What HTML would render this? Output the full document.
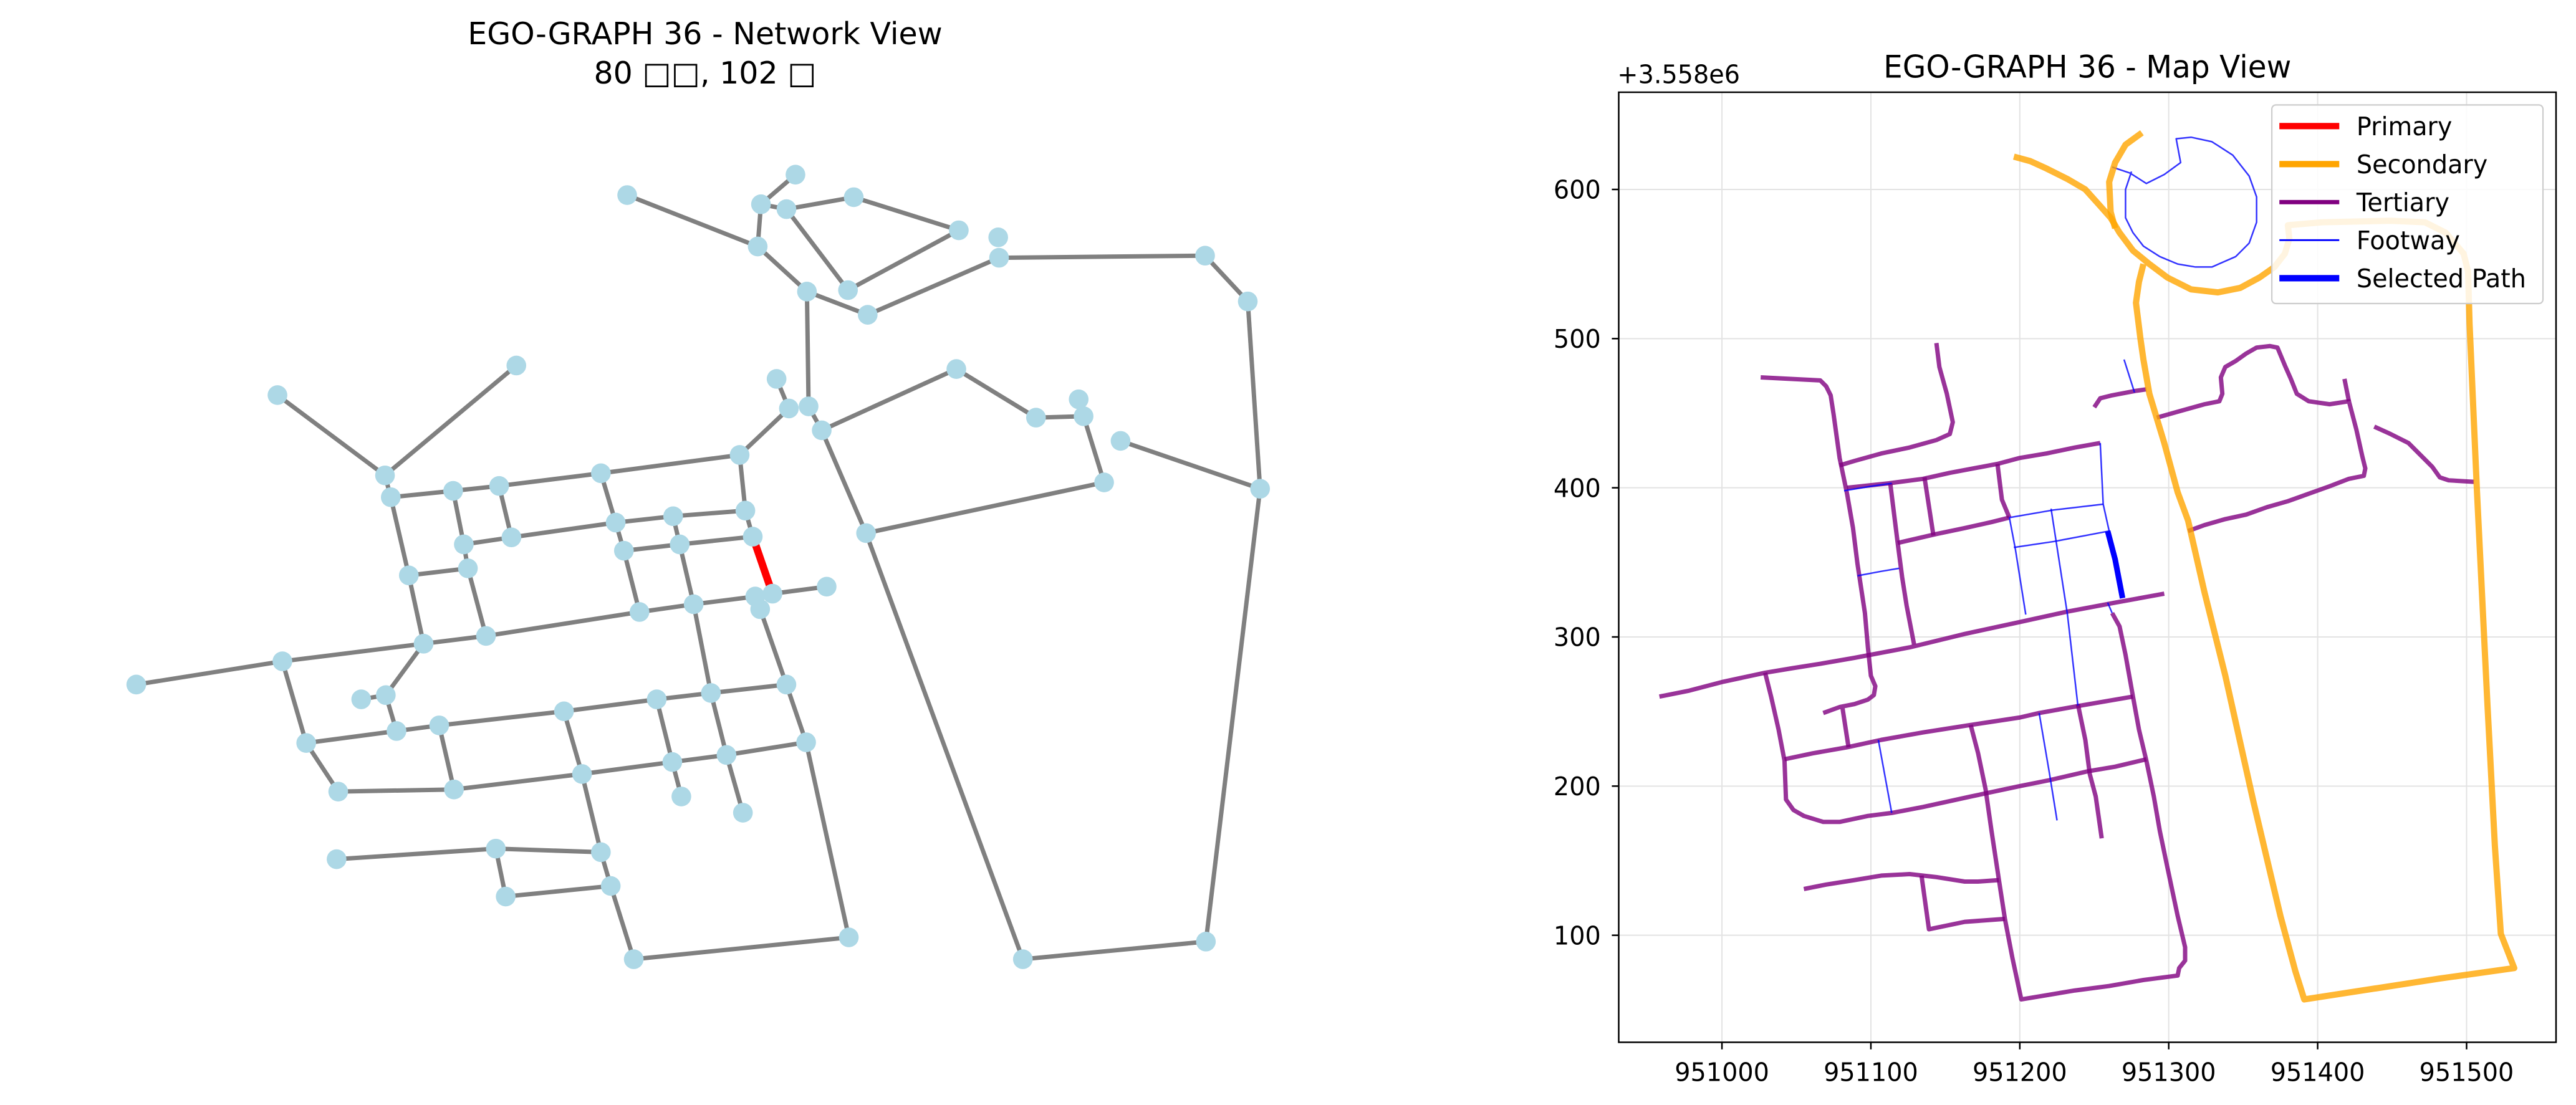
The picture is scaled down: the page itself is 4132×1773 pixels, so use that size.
<!DOCTYPE html>
<html><head><meta charset="utf-8"><style>
html,body{margin:0;padding:0;background:#fff;width:4132px;height:1773px;overflow:hidden}
svg{position:absolute;top:0}
text{font-family:"DejaVu Sans","Liberation Sans",sans-serif}
</style></head><body>
<svg id="net" style="left:0" width="2066" height="1773" viewBox="0 0 1569 1569" preserveAspectRatio="none">
<g id="edges"></g><g id="nodes"></g>
</svg>
<svg style="left:0" width="2066" height="1773">
<text x="1131" y="71" font-size="49" text-anchor="middle">EGO-GRAPH 36 - Network View</text>
<text x="1131" y="134" font-size="49" text-anchor="middle">80 □□, 102 □</text>
</svg>
<svg id="map" style="left:2400px" width="1732" height="1773" viewBox="0 0 1569 1569" preserveAspectRatio="none">
<text x="859" y="110" font-size="44" text-anchor="middle">EGO-GRAPH 36 - Map View</text>
<text x="176" y="118" font-size="36">+3.558e6</text>
<defs><clipPath id="clp"><rect x="178" y="131" width="1362" height="1349"/></clipPath></defs>
<g id="grid"></g><g id="lines" clip-path="url(#clp)"></g>
<rect x="178" y="131" width="1362" height="1349" fill="none" stroke="#000" stroke-width="2.5" vector-effect="non-scaling-stroke"/>
<g id="ticks"></g>
<g>
<rect x="1127" y="149" width="394" height="282" rx="6" fill="#fff" fill-opacity="0.85" stroke="#ccc" stroke-width="2"/>
<line x1="1138" y1="179" x2="1225" y2="179" stroke="red" stroke-width="9"/><text x="1250" y="192" font-size="36">Primary</text>
<line x1="1138" y1="233" x2="1225" y2="233" stroke="orange" stroke-width="9"/><text x="1250" y="246" font-size="36">Secondary</text>
<line x1="1138" y1="287" x2="1225" y2="287" stroke="purple" stroke-width="6"/><text x="1250" y="300" font-size="36">Tertiary</text>
<line x1="1138" y1="341" x2="1225" y2="341" stroke="blue" stroke-width="2.5"/><text x="1250" y="354" font-size="36">Footway</text>
<line x1="1138" y1="395" x2="1225" y2="395" stroke="blue" stroke-width="9"/><text x="1250" y="408" font-size="36">Selected Path</text>
</g>
</svg>
<script>
const NS="http://www.w3.org/2000/svg";
// ---- network data ----
const nodeX=[969,764,927,958,1040,1168,1216,923,1217,1468,983,1033,1057,1520,629,338,1165,946,961,985,1001,1262,1314,1320,1365,1345,1535,469,476,552,608,732,901,908,820,750,623,565,760,828,917,1055,498,570,920,941,1007,926,845,779,516,592,166,344,440,470,483,535,687,800,866,958,373,982,885,819,709,412,553,830,905,410,604,732,744,616,1034,772,1246,1469];
const nodeY=[248,277,290,297,280,327,337,350,366,363,414,412,447,428,519,561,524,538,580,577,611,593,567,591,626,685,694,675,706,697,690,672,646,725,733,742,763,773,782,773,762,757,817,807,847,843,833,865,858,869,914,903,972,939,993,987,1038,1030,1010,993,984,972,1055,1054,1072,1082,1099,1124,1121,1131,1154,1220,1205,1210,1258,1273,1331,1362,1362,1337];
const edgeFrom=[0,2,2,3,4,5,3,1,7,10,12,8,9,13,26,79,78,41,20,16,21,23,23,25,24,10,19,17,18,32,33,14,15,27,28,29,30,31,29,30,37,36,35,34,31,35,38,39,34,38,39,28,42,37,43,42,52,53,50,51,49,48,45,44,47,48,50,55,55,53,62,56,57,58,59,60,57,62,67,68,66,65,64,61,59,65,60,64,58,66,71,72,72,75,73,74,77,76];
const edgeTo=[2,7,3,4,5,11,11,7,10,12,8,9,13,26,79,78,41,20,16,21,23,22,25,41,26,19,20,18,32,33,40,27,27,28,29,30,31,32,37,36,36,35,34,33,35,38,39,40,39,49,48,42,43,43,51,50,53,50,51,49,48,44,46,47,61,60,55,54,56,62,56,57,58,59,60,61,68,67,68,66,65,64,63,63,65,69,64,70,66,73,72,73,75,74,74,77,76,63];
const selFrom=[40], selTo=[45];
const eg=document.getElementById('edges'), ng=document.getElementById('nodes');
function ln(g,x1,y1,x2,y2,c,w){const l=document.createElementNS(NS,'line');l.setAttribute('x1',x1);l.setAttribute('y1',y1);l.setAttribute('x2',x2);l.setAttribute('y2',y2);l.setAttribute('stroke',c);l.setAttribute('stroke-width',w);l.setAttribute('vector-effect','non-scaling-stroke');g.appendChild(l);return l;}
for(let i=0;i<edgeFrom.length;i++){
 const l=ln(eg,nodeX[edgeFrom[i]],nodeY[edgeFrom[i]],nodeX[edgeTo[i]],nodeY[edgeTo[i]],'#808080',7);
 
 
}
for(let i=0;i<selFrom.length;i++){
 const l=ln(eg,nodeX[selFrom[i]],nodeY[selFrom[i]],nodeX[selTo[i]],nodeY[selTo[i]],'red',12);
 
 
}
for(let i=0;i<nodeX.length;i++){
 const c=document.createElementNS(NS,'ellipse');c.setAttribute('cx',nodeX[i]);c.setAttribute('cy',nodeY[i]);c.setAttribute('rx',12);c.setAttribute('ry',14);c.setAttribute('fill','#add8e6');
 
 
 ng.appendChild(c);
}
// ---- map data (offsets: x+951000, y+3558000) ----
const xTicks=[951000,951100,951200,951300,951400,951500];
const yTicks=[100,200,300,400,500,600];
const secondary=[
[[196,622],[207,619],[218,614],[232,607],[244,600],[253,590],[261,581],[267,571],[276,559],[287,550],[299,541],[315,533],[333,531],[348,534],[361,541],[371,548],[378,557],[381,567],[380,576],[403,578],[449,579],[472,578],[486,571],[498,557],[501,545],[502,510],[507,397],[514,255],[519,160],[523,101],[532,78],[482,71],[391,57],[385,76],[375,113],[357,189],[338,274],[324,330],[313,378],[306,397],[297,430],[287,463],[283,486],[281,500],[278,524],[280,538],[283,550]],
[[282,638],[271,630],[264,618],[260,605],[261,585],[264,574]]];
const tertiary=[
[[26,474],[66,472],[70,468],[73,462],[75,449],[79,420],[84,396],[88,373],[91,349],[96,316],[98,293],[100,274],[103,267],[102,261],[98,258],[89,255],[79,253],[68,249]],
[[79,415],[89,418],[107,423],[126,427],[144,432],[153,436],[155,444],[151,463],[146,481],[144,497]],
[[-42,260],[-22,264],[1,270],[29,276],[47,279],[66,282],[89,286],[126,293],[163,302],[200,310],[232,317],[264,323],[297,329]],
[[84,400],[112,403],[135,406],[153,410],[185,416],[200,420],[218,423],[237,427],[254,430]],
[[118,363],[144,369],[163,373],[181,377],[193,380]],
[[113,403],[118,363],[121,340],[124,321],[129,295]],
[[136,407],[142,368]],
[[185,416],[188,392],[193,380]],
[[250,454],[254,460],[262,462],[278,465],[285,466]],
[[292,447],[306,451],[324,456],[334,458],[336,463],[335,474],[338,481],[345,485],[352,490],[359,494],[368,495],[373,494],[378,482],[382,473],[386,463],[394,458],[408,456],[421,458],[426,439],[430,421],[432,413],[431,408],[421,406],[408,401],[394,396],[380,391],[366,387],[352,382],[338,379],[324,375],[313,371]],
[[418,473],[421,458]],
[[438,441],[449,436],[461,430],[470,421],[477,414],[482,407],[488,405],[505,404]],
[[29,276],[33,260],[38,238],[42,217],[43,191],[48,184],[55,180],[68,176],[79,176],[98,180],[114,182],[135,186],[167,193],[200,200],[220,204],[246,210],[264,213],[285,218]],
[[42,218],[61,222],[84,226],[107,231],[135,236],[167,241],[200,246],[213,249],[241,254],[276,260]],
[[81,252],[85,226]],
[[262,316],[267,307],[271,288],[276,260],[280,238],[285,217],[290,193],[294,170],[299,146],[306,113],[311,92],[311,83],[307,78],[306,73],[283,70],[260,66],[237,63],[213,59],[201,57],[195,85],[190,111],[186,137],[181,170],[177,198],[172,222],[167,241]],
[[239,255],[244,231],[247,208],[251,193],[255,165]],
[[55,131],[70,134],[89,137],[107,140],[126,141],[144,139],[163,136],[172,136],[186,137]],
[[134,140],[139,104],[163,109],[190,111]]];
const footway=[
[[82,398],[100,401],[114,403]],
[[91,341],[107,344],[119,346]],
[[193,380],[222,385],[256,389]],
[[254,430],[256,389],[260,371]],
[[196,360],[223,364],[260,371]],
[[193,380],[197,359],[204,315]],
[[221,386],[232,315],[239,254]],
[[105,231],[114,182]],
[[213,249],[220,208],[225,177]],
[[270,486],[277,464]],
[[259,323],[262,316]],
[[262,615],[274,611],[285,604],[297,610],[308,618],[305,634],[315,635],[329,632],[343,623],[354,609],[359,595],[359,578],[354,564],[345,555],[329,548],[318,548],[306,550],[294,555],[283,562],[276,571],[271,581],[271,600],[275,612]]];
const selected=[[[259,371],[264,352],[269,326]]];
function sx(v){return 328+v*2.164;}           // v = x offset from 951000
function sy(v){return 269+(600-v)*2.118;}
const lg=document.getElementById('lines');
function draw(set,color,w,op,name){
 set.forEach(pl=>{
  const p=document.createElementNS(NS,'polyline');
  p.setAttribute('points',pl.map(q=>sx(q[0])+','+sy(q[1])).join(' '));
  p.setAttribute('fill','none');p.setAttribute('stroke',color);p.setAttribute('stroke-width',w);
  p.setAttribute('stroke-opacity',op);p.setAttribute('stroke-linejoin','round');
  p.setAttribute('vector-effect','non-scaling-stroke');
  
  
  lg.appendChild(p);
 });
}
draw(tertiary,'purple',7,0.8,'tertiary-road');
draw(footway,'blue',2.5,0.8,'footway');
draw(secondary,'orange',10,0.8,'secondary-road');
draw(selected,'blue',9,1,'selected-path');
const gg=document.getElementById('grid'), tg=document.getElementById('ticks');
xTicks.forEach(t=>{const x=sx(t-951000);
 const g=ln(gg,x,131,x,1480,'#e3e3e3',2);
 
 
 ln(tg,x,1480,x,1490,'#000',2.5);
 const tx=document.createElementNS(NS,'text');tx.setAttribute('x',x);tx.setAttribute('y',1535);tx.setAttribute('font-size','36');tx.setAttribute('text-anchor','middle');tx.textContent=t;
 
 
 tg.appendChild(tx);});
yTicks.forEach(t=>{const y=sy(t);
 const g=ln(gg,178,y,1540,y,'#e3e3e3',2);
 
 
 ln(tg,168,y,178,y,'#000',2.5);
 const tx=document.createElementNS(NS,'text');tx.setAttribute('x',152);tx.setAttribute('y',y+13);tx.setAttribute('font-size','36');tx.setAttribute('text-anchor','end');tx.textContent=t;
 
 
 tg.appendChild(tx);});
</script>
</body></html>
